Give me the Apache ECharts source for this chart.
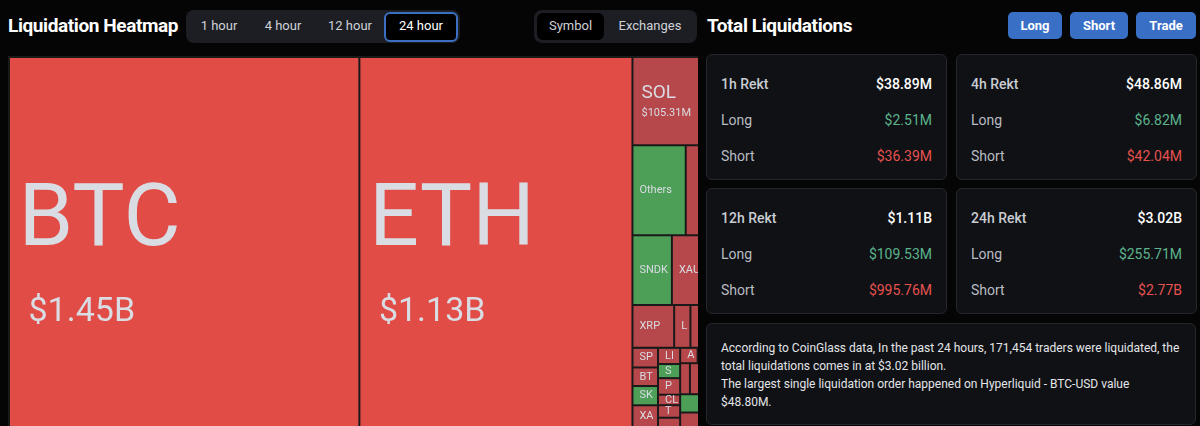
<!DOCTYPE html>
<html>
<head>
<meta charset="utf-8">
<script src="https://cdn.jsdelivr.net/npm/echarts@6/dist/echarts.min.js"></script>
<style>
  html, body { margin:0; padding:0; background:#050505; width:1200px; height:426px; overflow:hidden; font-family: Roboto, "Noto Sans", sans-serif; }
  .abs { position:absolute; }
  .title { color:#fff; font-weight:700; font-size:19px; line-height:24px; letter-spacing:-0.4px; }
  .group { background:#1c1e23; border-radius:8px; }
  .tab { position:absolute; color:#cfd2d8; font-size:13px; line-height:30px; text-align:center; }
  .sel { background:#000; border-radius:6px; }
  .btn { position:absolute; top:12px; height:27px; line-height:27px; background:#3a6fc6; color:#fff; font-weight:700; font-size:13px; text-align:center; border-radius:5px; }
  .card { position:absolute; background:#0f1115; border:1px solid #24272d; border-radius:6px; box-sizing:border-box; }
  .row { position:absolute; left:14px; right:14px; height:20px; line-height:20px; font-size:14px; }
  .row .l { position:absolute; left:0; }
  .row .r { position:absolute; right:0; }
  .info { color:#e4e5e8; font-size:12px; line-height:18px; white-space:nowrap; }
</style>
</head>
<body>
<div class="abs title" style="left:8px;top:14px;">Liquidation Heatmap</div>
<div class="abs group" style="left:186px;top:10px;width:274px;height:33px;"></div>
<div id="tabs"></div>
<div class="abs group" style="left:534px;top:10px;width:163px;height:33px;"></div>
<div class="abs sel" style="left:537px;top:13px;width:67px;height:27px;"></div>
<div class="tab" style="left:537px;top:11px;width:67px;">Symbol</div>
<div class="tab" style="left:610px;top:11px;width:80px;">Exchanges</div>

<div class="abs title" style="left:707px;top:14px;">Total Liquidations</div>
<div class="btn" style="left:1008px;width:54px;">Long</div>
<div class="btn" style="left:1070px;width:58px;">Short</div>
<div class="btn" style="left:1136px;width:60px;">Trade</div>
<div id="cards"></div>
<div class="card" style="left:706px;top:323px;width:490px;height:102px;">
  <div class="abs info" style="left:14px;top:15px;">According to CoinGlass data, In the past 24 hours, 171,454 traders were liquidated, the<br>total liquidations comes in at $3.02 billion.<br>The largest single liquidation order happened on Hyperliquid - BTC-USD value<br>$48.80M.</div>
</div>

<div id="chart" class="abs" style="left:8px;top:56px;width:690px;height:370px;"></div>

<script>
// ---- data ----
const timeTabs = ['1 hour', '4 hour', '12 hour', '24 hour'];
const selectedTab = '24 hour';

const periods = ['1h Rekt', '4h Rekt', '12h Rekt', '24h Rekt'];
const totals  = ['$38.89M', '$48.86M', '$1.11B', '$3.02B'];
const longs   = ['$2.51M', '$6.82M', '$109.53M', '$255.71M'];
const shorts  = ['$36.39M', '$42.04M', '$995.76M', '$2.77B'];

// treemap: 24h liquidation value per symbol, millions USD (display order)
const symbols = ['BTC','ETH','SOL','Others','HYPE','SNDK','XAU','XRP','LINK','ZEC',
                 'SPCX','BTW','SKHX','XAG','LIT','SOON','PUMP','CL','TRUMP','TAO',
                 'AVAX','ENA','SUI','HOOD','XPL','AAVE','BNB','ASTER','WLFI','ADA','FARTCOIN','PAXG'];
const values  = [1450, 1130, 105.31, 53.5, 53.5, 30.8, 52.4, 20.0, 7.8, 23.3,
                 5.6, 5.3, 5.5, 6.2, 4.0, 3.5, 4.1, 2.6, 3.1, 2.3,
                 3.0, 2.3, 1.6, 1.8, 1.4, 3.4, 9, 8, 7.6, 6, 4, 4];
// 2 = heavy short liquidations, 1 = short-dominant, -1 = long-dominant
const sentiment = [2, 2, 1, -1, 1, -1, 1, 1, 1, 1,
                   1, 1, -1, 1, 1, -1, 1, 1, 1, 1,
                   1, 1, -1, -1, -1, 1, 1, 1, -1, 1, 1, -1];
// cells whose ticker is not legible in the source (no label drawn)
const unlabeled = ['HYPE','ZEC','TAO','BNB','ASTER','WLFI','ADA','FARTCOIN','PAXG'];

// ---- UI ----
const tabPos = [[192, 54], [256, 54], [322, 56], [384, 74]];
let th = '';
timeTabs.forEach((t, i) => {
  const [x, w] = tabPos[i];
  if (t === selectedTab) {
    th += `<div class="abs sel" style="left:${x}px;top:12px;width:${w-4}px;height:26px;border:2px solid #3b6fc2;"></div>`;
  }
  th += `<div class="tab" style="left:${x}px;top:11px;width:${w}px;color:${t===selectedTab?'#fff':'#cfd2d8'}">${t}</div>`;
});
document.getElementById('tabs').innerHTML = th;

const cardPos = [[706, 54], [956, 54], [706, 188], [956, 188]];
let ch = '';
periods.forEach((p, i) => {
  const [x, y] = cardPos[i];
  ch += `<div class="card" style="left:${x}px;top:${y}px;width:241px;height:126px;">
    <div class="row" style="top:19px;"><span class="l" style="color:#c9ccd2;font-weight:500">${p}</span><span class="r" style="color:#fff;font-weight:500">${totals[i]}</span></div>
    <div class="row" style="top:55px;"><span class="l" style="color:#b9bcc2">Long</span><span class="r" style="color:#5cb38c">${longs[i]}</span></div>
    <div class="row" style="top:91px;"><span class="l" style="color:#b9bcc2">Short</span><span class="r" style="color:#e5524f">${shorts[i]}</span></div>
  </div>`;
});
document.getElementById('cards').innerHTML = ch;

// ---- treemap ----
const colorOf = s => s === 2 ? '#e24c47' : (s === 1 ? '#b6474a' : '#4d9f58');
const fmt = v => v >= 1000 ? '$' + (v / 1000).toFixed(2) + 'B' : '$' + v.toFixed(2) + 'M';
const TXT = '#d9dce3';
const BORDER = 1;

function labelFor(name, v, h) {
  if (unlabeled.indexOf(name) >= 0) return { show: false };
  const inner = h ? h - 2 * BORDER : 0;
  if (v >= 1000) {
    const a = 140, b = 38;
    const pad = inner ? Math.max(0, (inner - a - b) / 2) : 0;
    return {
      padding: [pad, 0, 0, 8.5],
      formatter: p => `{n|${p.name}}\n{v|${fmt(p.value)}}`,
      rich: {
        n: { fontSize: 88, lineHeight: a, color: TXT, fontFamily: 'Roboto' },
        v: { fontSize: 34, lineHeight: b, color: TXT, fontFamily: 'Roboto', padding: [0, 0, 0, 10] }
      }
    };
  } else if (v >= 100) {
    const pad = inner ? Math.max(0, (inner - 40) / 2) : 0;
    return {
      padding: [pad, 0, 0, 8],
      formatter: p => `{n|${p.name}}\n{v|${fmt(p.value)}}`,
      rich: {
        n: { fontSize: 19, lineHeight: 24, color: TXT, fontFamily: 'Roboto' },
        v: { fontSize: 11, lineHeight: 16, color: TXT, fontFamily: 'Roboto' }
      }
    };
  }
  const LH = 8;
  const pad = inner ? Math.max(0, (inner - LH) / 2) : 0;
  return { padding: [pad, 0, 0, 6], formatter: '{b}', fontSize: 11, lineHeight: LH, color: TXT };
}

function buildData(heights) {
  return symbols.map((name, i) => ({
    name,
    value: values[i],
    itemStyle: { color: colorOf(sentiment[i]) },
    label: labelFor(name, values[i], heights ? heights[name] : 0)
  }));
}

const chart = echarts.init(document.getElementById('chart'), null, { renderer: 'canvas' });
chart.setOption({
  backgroundColor: 'transparent',
  animation: false,
  tooltip: { show: false },
  series: [{
    type: 'treemap',
    left: 0, top: 0, width: 732, height: 372,
    roam: false,
    nodeClick: false,
    breadcrumb: { show: false },
    sort: false,
    itemStyle: { borderColor: '#1a1a1a', borderWidth: BORDER, gapWidth: 0 },
    label: {
      show: true,
      position: 'insideTopLeft',
      distance: 0,
      color: TXT,
      fontFamily: 'Roboto',
      overflow: 'truncate',
      ellipsis: ''
    },
    emphasis: { disabled: true },
    data: buildData(null)
  }]
});

// second pass: vertically centre each label inside the cell the library laid out
try {
  const tree = chart.getModel().getSeriesByIndex(0).getData().tree;
  const heights = {};
  tree.root.children.forEach(n => {
    const l = n.getLayout();
    heights[n.name] = l ? l.height : 0;
  });
  chart.setOption({ series: [{ data: buildData(heights) }] });
} catch (e) { console.log(e); }
</script>
</body>
</html>
